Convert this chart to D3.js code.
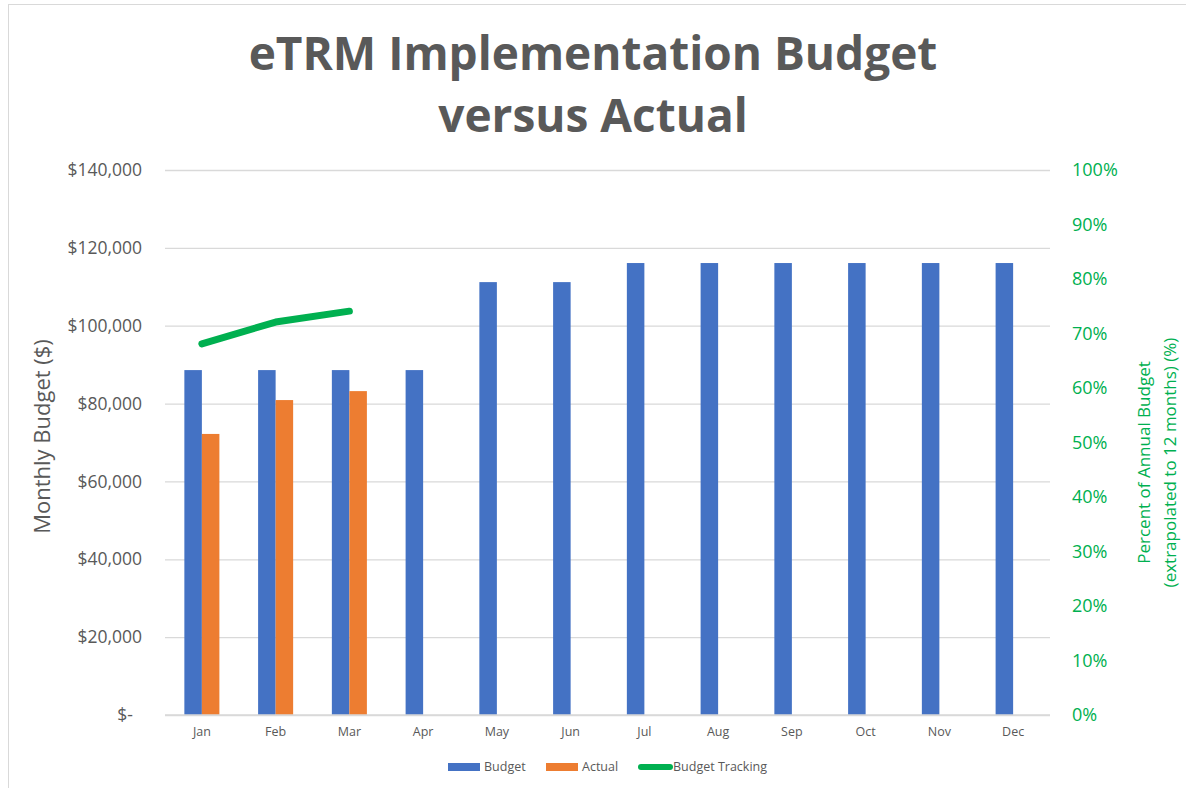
<!DOCTYPE html>
<html>
<head>
<meta charset="utf-8">
<script src="https://cdn.jsdelivr.net/npm/d3@7/dist/d3.min.js"></script>
<style>
  body { margin: 0; background: #fff; }
  svg { display: block; font-family: "Open Sans", "Noto Sans", sans-serif; }
</style>
</head>
<body>
<div id="chart"></div>
<script>
// chart values
const months = ['Jan', 'Feb', 'Mar', 'Apr', 'May', 'Jun', 'Jul', 'Aug', 'Sep', 'Oct', 'Nov', 'Dec'];
const budget = [88600, 88600, 88600, 88600, 111200, 111200, 116100, 116100, 116100, 116100, 116100, 116100];
const actual = [72200, 80900, 83200, null, null, null, null, null, null, null, null, null];
const tracking = [0.681, 0.721, 0.741];
const leftTicks = [0, 20000, 40000, 60000, 80000, 100000, 120000, 140000];
const rightTicks = [0, 0.1, 0.2, 0.3, 0.4, 0.5, 0.6, 0.7, 0.8, 0.9, 1.0];

const W = 1186, H = 788;
const margin = {top: 170, right: 136, bottom: 73, left: 165};
const width = W - margin.left - margin.right;
const height = H - margin.top - margin.bottom;

const gray = '#595959';
const green = '#00B050';
const blue = '#4472C4';
const orange = '#ED7D31';

const svg = d3.select('#chart').append('svg')
    .attr('width', W)
    .attr('height', H);

// chart area border
svg.append('rect')
    .attr('x', 8.5).attr('y', 4.5)
    .attr('width', W).attr('height', H)
    .attr('fill', 'none')
    .attr('stroke', '#d9d9d9');

// title
const title = svg.append('text')
    .attr('text-anchor', 'middle')
    .attr('fill', gray)
    .attr('font-weight', 'bold')
    .attr('font-size', 46);
title.append('tspan').attr('x', 593).attr('y', 70).text('eTRM Implementation Budget');
title.append('tspan').attr('x', 593).attr('y', 132).text('versus Actual');

const g = svg.append('g')
    .attr('transform', 'translate(' + margin.left + ',' + margin.top + ')');

const x = d3.scaleBand().domain(months).range([0, width]).paddingInner(0.525).paddingOuter(0.2625);
const x1 = d3.scaleBand().domain(['budget', 'actual']).range([0, x.bandwidth()]);
const y = d3.scaleLinear().domain([0, 140000]).range([height, 0]);
const y2 = d3.scaleLinear().domain([0, 1]).range([height, 0]);

// gridlines
g.append('g')
    .call(d3.axisLeft(y).tickValues(leftTicks).tickSize(-width).tickFormat(''))
    .call(s => s.select('.domain').remove())
    .call(s => s.selectAll('line').attr('stroke', '#d9d9d9').attr('stroke-width', 1.3));

// left axis labels
const fmt = d3.format('$,.0f');
g.append('g')
    .call(d3.axisLeft(y).tickValues(leftTicks).tickSize(0).tickPadding(23)
        .tickFormat(d => d === 0 ? '$-' : fmt(d)))
    .call(s => s.select('.domain').remove())
    .call(s => s.selectAll('text').attr('fill', gray).attr('font-size', 17.5)
        .attr('font-family', '"Open Sans", sans-serif'))
    .call(s => s.selectAll('text').filter(d => d === 0).attr('dx', -9));

// right axis labels
g.append('g')
    .attr('transform', 'translate(' + width + ',0)')
    .call(d3.axisRight(y2).tickValues(rightTicks).tickSize(0).tickPadding(22)
        .tickFormat(d3.format('.0%')))
    .call(s => s.select('.domain').remove())
    .call(s => s.selectAll('text').attr('fill', green).attr('font-size', 18)
        .attr('font-family', '"Open Sans", sans-serif'));

// x axis
g.append('g')
    .attr('transform', 'translate(0,' + height + ')')
    .call(d3.axisBottom(x).tickSize(0).tickPadding(12))
    .call(s => s.select('.domain').remove())
    .call(s => s.selectAll('text').attr('fill', gray).attr('font-size', 12.5)
        .attr('font-family', '"Open Sans", sans-serif'));

// bars
const groups = g.append('g').selectAll('g')
    .data(months)
    .join('g')
    .attr('transform', d => 'translate(' + x(d) + ',0)');

groups.append('rect')
    .attr('x', x1('budget'))
    .attr('width', x1.bandwidth())
    .attr('y', (d, i) => y(budget[i]))
    .attr('height', (d, i) => height - y(budget[i]))
    .attr('fill', blue);

groups.filter((d, i) => actual[i] != null).append('rect')
    .attr('x', x1('actual'))
    .attr('width', x1.bandwidth())
    .attr('y', d => y(actual[months.indexOf(d)]))
    .attr('height', d => height - y(actual[months.indexOf(d)]))
    .attr('fill', orange);

// baseline
g.append('line')
    .attr('x1', 0).attr('x2', width)
    .attr('y1', height).attr('y2', height)
    .attr('stroke', '#d9d9d9').attr('stroke-width', 1.3);

// tracking line on secondary axis
const line = d3.line()
    .x((d, i) => x(months[i]) + x.bandwidth() / 2)
    .y(d => y2(d));

g.append('path')
    .datum(tracking)
    .attr('fill', 'none')
    .attr('stroke', green)
    .attr('stroke-width', 7)
    .attr('stroke-linecap', 'round')
    .attr('stroke-linejoin', 'round')
    .attr('d', line);

// axis titles
svg.append('text')
    .attr('transform', 'translate(50,' + (margin.top + height / 2 - 6) + ') rotate(-90)')
    .attr('text-anchor', 'middle')
    .attr('fill', gray)
    .attr('font-size', 22)
    .text('Monthly Budget ($)');

const rt = svg.append('text')
    .attr('transform', 'translate(1150,' + (margin.top + height / 2 + 20) + ') rotate(-90)')
    .attr('text-anchor', 'middle')
    .attr('fill', green)
    .attr('font-size', 17);
rt.append('tspan').attr('x', 0).attr('y', 0).text('Percent of Annual Budget');
rt.append('tspan').attr('x', 0).attr('y', 26).text('(extrapolated to 12 months) (%)');

// legend
const legendItems = [
    {label: 'Budget', color: blue, type: 'rect', x: 448},
    {label: 'Actual', color: orange, type: 'rect', x: 546},
    {label: 'Budget Tracking', color: green, type: 'line', x: 638}
];
const legend = svg.append('g').attr('transform', 'translate(0,767)');
legendItems.forEach(it => {
    if (it.type === 'rect') {
        legend.append('rect').attr('x', it.x).attr('y', -4).attr('width', 32).attr('height', 8).attr('fill', it.color);
    } else {
        legend.append('line').attr('x1', it.x + 3).attr('x2', it.x + 32).attr('y1', 0).attr('y2', 0)
            .attr('stroke', it.color).attr('stroke-width', 6).attr('stroke-linecap', 'round');
    }
    legend.append('text')
        .attr('x', it.x + (it.type === 'rect' ? 36 : 35))
        .attr('y', 0)
        .attr('dy', '0.35em')
        .attr('fill', gray)
        .attr('font-size', 12.5)
        .text(it.label);
});
</script>
</body>
</html>
